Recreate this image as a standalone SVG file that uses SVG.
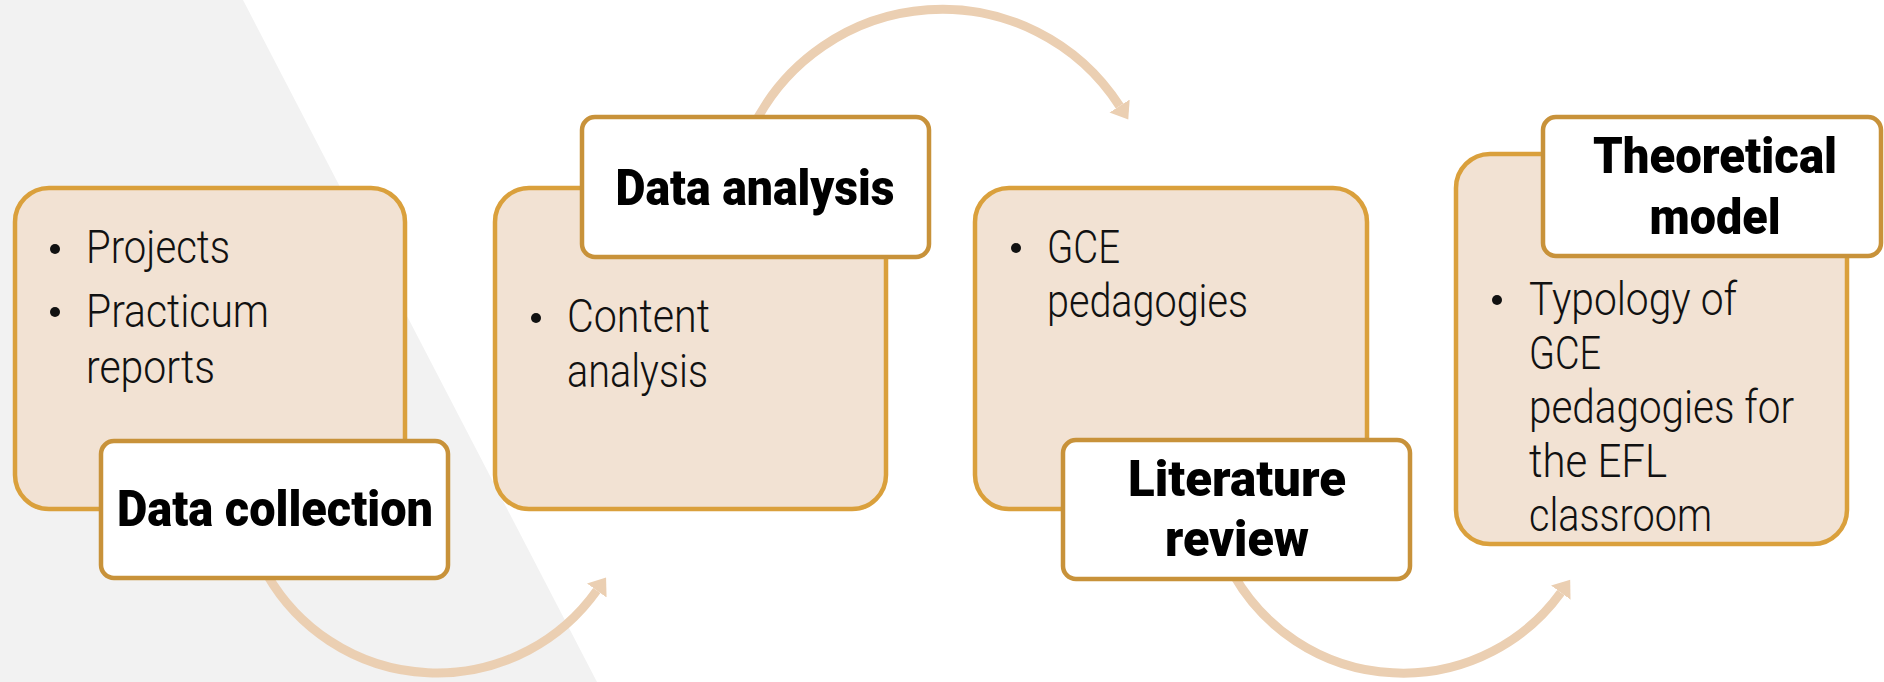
<svg xmlns="http://www.w3.org/2000/svg" width="1884" height="682" viewBox="0 0 1884 682">
  <style>
    .panel { fill: #F2E2D3; stroke: #DAA03C; stroke-width: 4.5; }
    .tag { fill: #FFFFFF; stroke: #C8923A; stroke-width: 4.5; }
    .item { font-family: Roboto, "Liberation Sans", sans-serif; font-weight: 300; font-size: 46px; fill: #111111; }
    .title { font-family: Roboto, "Liberation Sans", sans-serif; font-weight: 900; font-size: 50px; fill: #000000; text-anchor: middle; }
    .dot { fill: #111111; }
    .flow { fill: none; stroke: #EBCFB2; stroke-width: 9; marker-end: url(#head); }
  </style>
  <defs>
    <marker id="head" markerUnits="userSpaceOnUse" markerWidth="20" markerHeight="26" refX="0" refY="12" orient="auto" viewBox="0 0 20 24">
      <path d="M0,0 L16,12 L0,24 z" fill="#EBCFB2"/>
    </marker>
  </defs>

  <!-- background wedge -->
  <polygon points="0,0 243,0 597,682 0,682" fill="#F2F2F2"/>

  <!-- curved connectors -->
  <g id="connectors">
    <path class="flow" d="M267.3,575 A196,196 0 0 0 596.8,590.5"/>
    <path class="flow" d="M751,131 A211,211 0 0 1 1119.6,106"/>
    <path class="flow" d="M1234,575.5 A195,195 0 0 0 1560.8,592.6"/>
  </g>

  <!-- step 1 -->
  <g id="data-collection">
    <rect class="panel" x="15" y="188" width="390" height="321" rx="34"/>
    <circle class="dot" cx="55" cy="249" r="5"/>
    <text class="item" x="86" y="263" textLength="144" lengthAdjust="spacingAndGlyphs">Projects</text>
    <circle class="dot" cx="55" cy="312" r="5"/>
    <text class="item" x="86" y="327" textLength="183" lengthAdjust="spacingAndGlyphs">Practicum</text>
    <text class="item" x="86" y="383" textLength="129" lengthAdjust="spacingAndGlyphs">reports</text>
    <rect class="tag" x="101" y="441" width="347" height="137" rx="13"/>
    <text class="title" x="275" y="526" textLength="316" lengthAdjust="spacingAndGlyphs">Data collection</text>
  </g>

  <!-- step 2 -->
  <g id="data-analysis">
    <rect class="panel" x="495" y="188" width="391" height="321" rx="34"/>
    <circle class="dot" cx="536" cy="318" r="5"/>
    <text class="item" x="567" y="332" textLength="143" lengthAdjust="spacingAndGlyphs">Content</text>
    <text class="item" x="567" y="387" textLength="141" lengthAdjust="spacingAndGlyphs">analysis</text>
    <rect class="tag" x="582" y="117" width="347" height="140" rx="13"/>
    <text class="title" x="755" y="205" textLength="279" lengthAdjust="spacingAndGlyphs">Data analysis</text>
  </g>

  <!-- step 3 -->
  <g id="literature-review">
    <rect class="panel" x="975" y="188" width="392" height="321" rx="34"/>
    <circle class="dot" cx="1016" cy="248" r="5"/>
    <text class="item" x="1047" y="263" textLength="73" lengthAdjust="spacingAndGlyphs">GCE</text>
    <text class="item" x="1047" y="317" textLength="201" lengthAdjust="spacingAndGlyphs">pedagogies</text>
    <rect class="tag" x="1063" y="440" width="347" height="139" rx="13"/>
    <text class="title" x="1237" y="496" textLength="218" lengthAdjust="spacingAndGlyphs">Literature</text>
    <text class="title" x="1237" y="556" textLength="144" lengthAdjust="spacingAndGlyphs">review</text>
  </g>

  <!-- step 4 -->
  <g id="theoretical-model">
    <rect class="panel" x="1456" y="154" width="391" height="390" rx="34"/>
    <circle class="dot" cx="1497" cy="300" r="5"/>
    <text class="item" x="1529" y="315" textLength="208" lengthAdjust="spacingAndGlyphs">Typology of</text>
    <text class="item" x="1529" y="369" textLength="72" lengthAdjust="spacingAndGlyphs">GCE</text>
    <text class="item" x="1529" y="423" textLength="265" lengthAdjust="spacingAndGlyphs">pedagogies for</text>
    <text class="item" x="1529" y="477" textLength="138" lengthAdjust="spacingAndGlyphs">the EFL</text>
    <text class="item" x="1529" y="531" textLength="183" lengthAdjust="spacingAndGlyphs">classroom</text>
    <rect class="tag" x="1543" y="117" width="338" height="139" rx="13"/>
    <text class="title" x="1715" y="173" textLength="244" lengthAdjust="spacingAndGlyphs">Theoretical</text>
    <text class="title" x="1715" y="234" textLength="131" lengthAdjust="spacingAndGlyphs">model</text>
  </g>
</svg>
